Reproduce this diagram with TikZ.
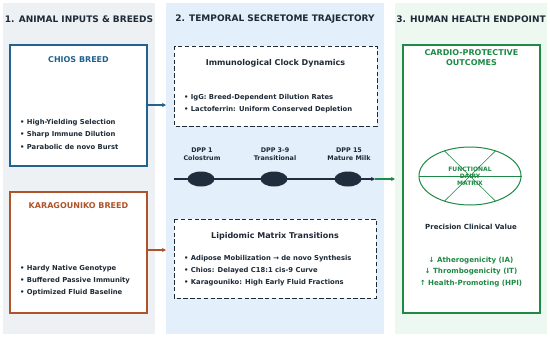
\documentclass[tikz,border=0pt]{standalone}
\usepackage{fontspec}
\setmainfont{DejaVu Sans}
\usetikzlibrary{arrows.meta,shapes.geometric,calc}
\definecolor{pgray}{HTML}{EEF1F3}
\definecolor{pblue}{HTML}{E3EFFA}
\definecolor{pgreen}{HTML}{EDF9F0}
\definecolor{cblue}{HTML}{22628F}
\definecolor{corange}{HTML}{B0532A}
\definecolor{cgreen}{HTML}{1F8A45}
\definecolor{navy}{HTML}{1F2D3D}
\definecolor{dtext}{HTML}{1E2A36}
\tikzset{
  ptitle/.style={font=\bfseries\fontsize{9}{11}\selectfont, text=dtext, anchor=center},
  bullet/.style={font=\bfseries\fontsize{6.8}{8}\selectfont, text=dtext, anchor=west, inner sep=0pt},
  btitle/.style={font=\bfseries\fontsize{8}{10}\selectfont, anchor=center},
  dbox/.style={draw=dtext, line width=1pt, dash pattern=on 4.3pt off 2.5pt, fill=white},
  dpp/.style={font=\bfseries\fontsize{6.4}{8}\selectfont, text=dtext, align=center, anchor=center},
  dot/.style={fill=navy, ellipse, inner sep=0pt, minimum width=27pt, minimum height=15pt},
  conn/.style={line width=1.4pt, -{Stealth[length=4pt,width=4pt]}},
}
\begin{document}
\begin{tikzpicture}[x=1pt,y=-1pt]
\useasboundingbox (0,0) rectangle (550,338);
\fill[white] (0,0) rectangle (550,338);
% panels
\fill[pgray] (3,3) rectangle (155,334);
\fill[pblue] (166,3) rectangle (384,334);
\fill[pgreen] (395,3) rectangle (547,334);
\node[ptitle] (t1) at (79,19) {1. ANIMAL INPUTS \& BREEDS};
\node[ptitle] (t2) at (275,19) {2. TEMPORAL SECRETOME TRAJECTORY};
\node[ptitle] (t3) at (471,19) {3. HUMAN HEALTH ENDPOINT};
% Panel 1 boxes
\draw[cblue, line width=1.6pt, fill=white] (10,45) rectangle (147,166);
\coordinate (chiosE) at (147,105);
\node[btitle, text=cblue] (chiost) at (78.5,60) {CHIOS BREED};
\node[bullet] (c1) at (20,123) {• High-Yielding Selection};
\node[bullet] (c2) at (20,135) {• Sharp Immune Dilution};
\node[bullet] (c3) at (20,147) {• Parabolic de novo Burst};
\draw[corange, line width=1.6pt, fill=white] (10,192) rectangle (147,313);
\coordinate (karaE) at (147,250);
\node[btitle, text=corange] (karat) at (78.5,206) {KARAGOUNIKO BREED};
\node[bullet] (k1) at (20,269) {• Hardy Native Genotype};
\node[bullet] (k2) at (20,281) {• Buffered Passive Immunity};
\node[bullet] (k3) at (20,293) {• Optimized Fluid Baseline};
% Panel 2
\draw[dbox] (174,46) rectangle (377,126);
\coordinate (immW) at (166,105);
\node[btitle, text=dtext] (immt) at (275.5,63) {Immunological Clock Dynamics};
\node[bullet] (i1) at (184,98) {• IgG: Breed-Dependent Dilution Rates};
\node[bullet] (i2) at (184,110) {• Lactoferrin: Uniform Conserved Depletion};
\draw[dbox] (174,219) rectangle (376,298);
\coordinate (lipW) at (166,250);
\node[btitle, text=dtext] (lipt) at (275,236) {Lipidomic Matrix Transitions};
\node[bullet] (l1) at (184,259) {• Adipose Mobilization → de novo Synthesis};
\node[bullet] (l2) at (184,271) {• Chios: Delayed C18:1 cis-9 Curve};
\node[bullet] (l3) at (184,283) {• Karagouniko: High Early Fluid Fractions};
\draw[conn, cblue] (chiosE) -- (immW);
\draw[conn, corange] (karaE) -- (lipW);
% timeline
\node[dpp] (d1) at (202,154) {DPP 1\\Colostrum};
\node[dpp] (d2) at (275,154) {DPP 3-9\\Transitional};
\node[dpp] (d3) at (349,154) {DPP 15\\Mature Milk};
\coordinate (tlS) at (174,179);
\coordinate (tlE) at (375,179);
\draw[conn, navy, line width=2.6pt] (tlS) -- (tlE);
\node[dot] (e1) at (201,179) {};
\node[dot] (e2) at (274,179) {};
\node[dot] (e3) at (348,179) {};
\coordinate (grE) at (395,179);
\draw[conn, cgreen] (tlE) -- (grE);
% Panel 3
\draw[cgreen, line width=1.6pt, fill=white] (403,45) rectangle (540,313);
\node[btitle, text=cgreen, align=center, font=\bfseries\fontsize{8}{10}\selectfont] (cardio) at (471.5,58) {CARDIO-PROTECTIVE\\OUTCOMES};
\coordinate (mc) at (470,176);
\node[draw=cgreen, line width=1pt, ellipse, minimum width=102pt, minimum height=58pt, inner sep=0pt] (mat) at (mc) {};
\draw[cgreen, line width=0.6pt] (mat.west) -- (mat.east);
\draw[cgreen, line width=0.6pt] ($(mc)+(25.5,-25.1)$) -- ($(mc)+(-25.5,25.1)$);
\draw[cgreen, line width=0.6pt] ($(mc)+(-25.5,-25.1)$) -- ($(mc)+(25.5,25.1)$);
\node[font=\bfseries\fontsize{6}{7}\selectfont, text=cgreen, align=center] (matt) at (mc) {FUNCTIONAL\\DAIRY\\MATRIX};
\node[btitle, text=dtext, font=\bfseries\fontsize{7}{8}\selectfont] (prec) at (471,227) {Precision Clinical Value};
\node[font=\bfseries\fontsize{7.1}{11.3}\selectfont, text=cgreen, align=center] (hl) at (471,272) {↓ Atherogenicity (IA)\\↓ Thrombogenicity (IT)\\↑ Health-Promoting (HPI)};
\end{tikzpicture}
\end{document}
